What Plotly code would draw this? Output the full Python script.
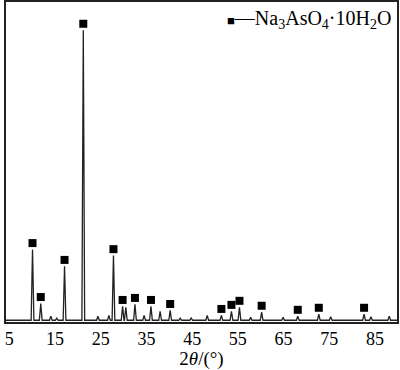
import plotly.graph_objects as go

# Peak list: 2theta (deg), relative intensity, marked as Na3AsO4·10H2O
two_theta = [10.1, 11.9, 14.1, 15.4, 17.1, 21.2, 24.4, 26.8, 27.8, 29.8, 30.5,
             32.5, 34.5, 36.0, 38.0, 40.2, 42.4, 44.8, 48.3, 51.4, 53.6, 55.35,
             57.8, 60.2, 64.9, 68.1, 72.7, 75.3, 82.6, 84.1, 88.1]
intensity = [244, 58, 14, 7, 186, 1000, 14, 17, 223, 48, 45,
             55, 17, 48, 31, 34, 7, 8, 17, 17, 31, 45,
             10, 28, 10, 14, 21, 12, 21, 12, 14]
marked = [1, 1, 0, 0, 1, 1, 0, 0, 1, 1, 0,
          1, 0, 1, 0, 1, 0, 0, 0, 1, 1, 1,
          0, 1, 0, 1, 1, 0, 1, 0, 0]

x_ticks = [5, 15, 25, 35, 45, 55, 65, 75, 85]

# build the line from the peak list (narrow triangular profiles)
hw = 0.3
xs, ys = [4.3], [0]
for p, h in zip(two_theta, intensity):
    xs += [p - hw, p, p + hw]
    ys += [0, h, 0]
xs.append(89.8)
ys.append(0)

mx = [p for p, m in zip(two_theta, marked) if m]
my = [h + 22 for h, m in zip(intensity, marked) if m]

fig = go.Figure()
fig.add_trace(go.Scatter(x=xs, y=ys, mode="lines",
                         line=dict(color="#222222", width=1.3),
                         showlegend=False, hoverinfo="skip"))
fig.add_trace(go.Scatter(x=mx, y=my, mode="markers",
                         marker=dict(symbol="square", size=8, color="black"),
                         showlegend=False))

fig.update_layout(
    width=400, height=370,
    margin=dict(l=6, r=3, t=2, b=48),
    paper_bgcolor="white", plot_bgcolor="white",
    font=dict(family="Liberation Serif", size=18, color="black"),
    xaxis=dict(range=[4.3, 89.8], tickvals=x_ticks, ticktext=[str(t) for t in x_ticks],
               showgrid=False, zeroline=False, showline=True, linecolor="#222222",
               linewidth=1.5, mirror=True, ticks="", automargin=False,
               title=dict(text="2<i>θ</i>/(°)", font=dict(size=19), standoff=1)),
    yaxis=dict(range=[-6, 1097], showticklabels=False, showgrid=False, zeroline=False,
               showline=True, linecolor="#222222", linewidth=1.5, mirror=True, ticks="",
               automargin=False),
    annotations=[dict(x=0.99, y=0.945, xref="paper", yref="paper", xanchor="right",
                      yanchor="middle", showarrow=False,
                      text="<span style='font-size:13px'>■</span>—Na<sub>3</sub>AsO<sub>4</sub>·10H<sub>2</sub>O",
                      font=dict(family="Liberation Serif", size=20, color="black"))],
)

fig.write_html("out.html", config={"displayModeBar": False},
               post_script="document.body.style.margin='0';document.body.style.overflow='hidden';")
